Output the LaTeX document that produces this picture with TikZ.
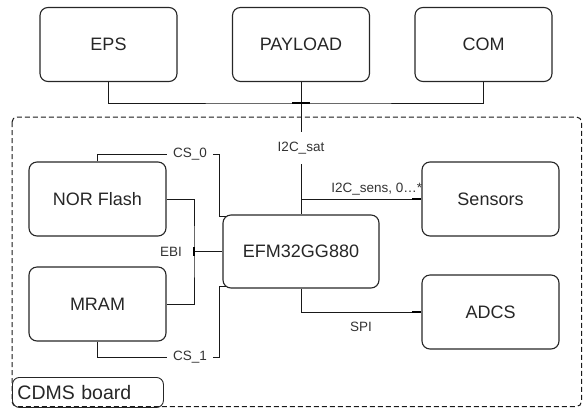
\documentclass[tikz,border=0pt]{standalone}
\usepackage{fontspec}
\setmainfont{Liberation Sans}
\begin{document}
\begin{tikzpicture}[x=1pt,y=-1pt,
  box/.style={draw=black!85,line width=1.1pt,rounded corners=8pt,minimum width=137pt,minimum height=74pt,inner sep=0pt,font=\fontsize{18}{21}\selectfont,text=black!85},
  wire/.style={draw=black!90,line width=0.9pt},
  tick/.style={draw=black,line width=2.6pt},
  lbl/.style={font=\fontsize{13.5}{16}\selectfont,text=black!80,inner sep=1pt},
  gap/.style={lbl,fill=white}]
\useasboundingbox (0,0) rectangle (583,408);
% boundary
\draw[black!90,line width=1pt,dash pattern=on 5pt off 3pt,rounded corners=5pt] (12,117) rectangle (581.5,406.5);
\node[draw=black!85,line width=0.9pt,rounded corners=7pt,anchor=north west,minimum height=30pt,text width=141pt,inner xsep=5pt,align=left,font=\fontsize{19.5}{22}\selectfont,text=black!85] (cdms) at (12,377) {CDMS board};
% top boxes
\node[box] (eps) at (108.5,44.5) {EPS};
\node[box] (pay) at (301,44.5) {PAYLOAD};
\node[box] (com) at (483.5,44.5) {COM};
% inner boxes
\node[box] (nor) at (97.5,199) {NOR Flash};
\node[box] (mram) at (97.5,304) {MRAM};
\node[box,minimum width=156pt,minimum height=73pt] (efm) at (301,251.5) {EFM32GG880};
\node[box] (sens) at (490.5,199) {Sensors};
\node[box] (adcs) at (490.5,312) {ADCS};
% coordinates
\coordinate (busJ) at (301,103);
\coordinate (cs0) at (219,154);
\coordinate (cs1) at (219,357);
\coordinate (ebi) at (194,251.5);
\coordinate (sj) at (301,199);
% bus
\draw[wire] (eps.south) |- (busJ) -| (com.south);
\draw[wire] (pay.south) -- (efm.north);
\draw[tick] ([xshift=-9pt]busJ) -- ([xshift=9pt]busJ);
\node[gap,inner ysep=10pt,inner xsep=3pt] (li2c) at (301,148) {I2C\_sat};
% CS lines
\draw[wire] (nor.north) |- (cs0) |- ([xshift=4pt,yshift=-2pt]efm.north west);
\node[gap,inner xsep=6pt] (lcs0) at (190,154) {CS\_0};
\draw[wire] (mram.south) |- (cs1) |- ([xshift=4pt,yshift=2pt]efm.south west);
\node[gap,inner xsep=6pt] (lcs1) at (190,357) {CS\_1};
% EBI
\draw[wire] (nor.east) -| (ebi) |- (mram.east);
\draw[wire] (ebi) -- (efm.west);
\draw[tick] ([yshift=4.5pt]ebi) -- ([yshift=-4.5pt]ebi);
\node[lbl,anchor=east] (lebi) at ([xshift=-11pt]ebi) {EBI};
% sensors
\draw[wire] (sj) -- (sens.west);
\draw[tick] ([xshift=-9pt]sens.west) -- (sens.west);
\node[lbl,anchor=base east] (lsens) at ([xshift=2pt,yshift=7pt]sens.west) {I2C\_sens, 0…*};
% SPI
\draw[wire] (efm.south) |- (adcs.west);
\draw[tick] ([xshift=-9pt]adcs.west) -- (adcs.west);
\node[lbl] (lspi) at (361,327) {SPI};
\end{tikzpicture}
\end{document}
